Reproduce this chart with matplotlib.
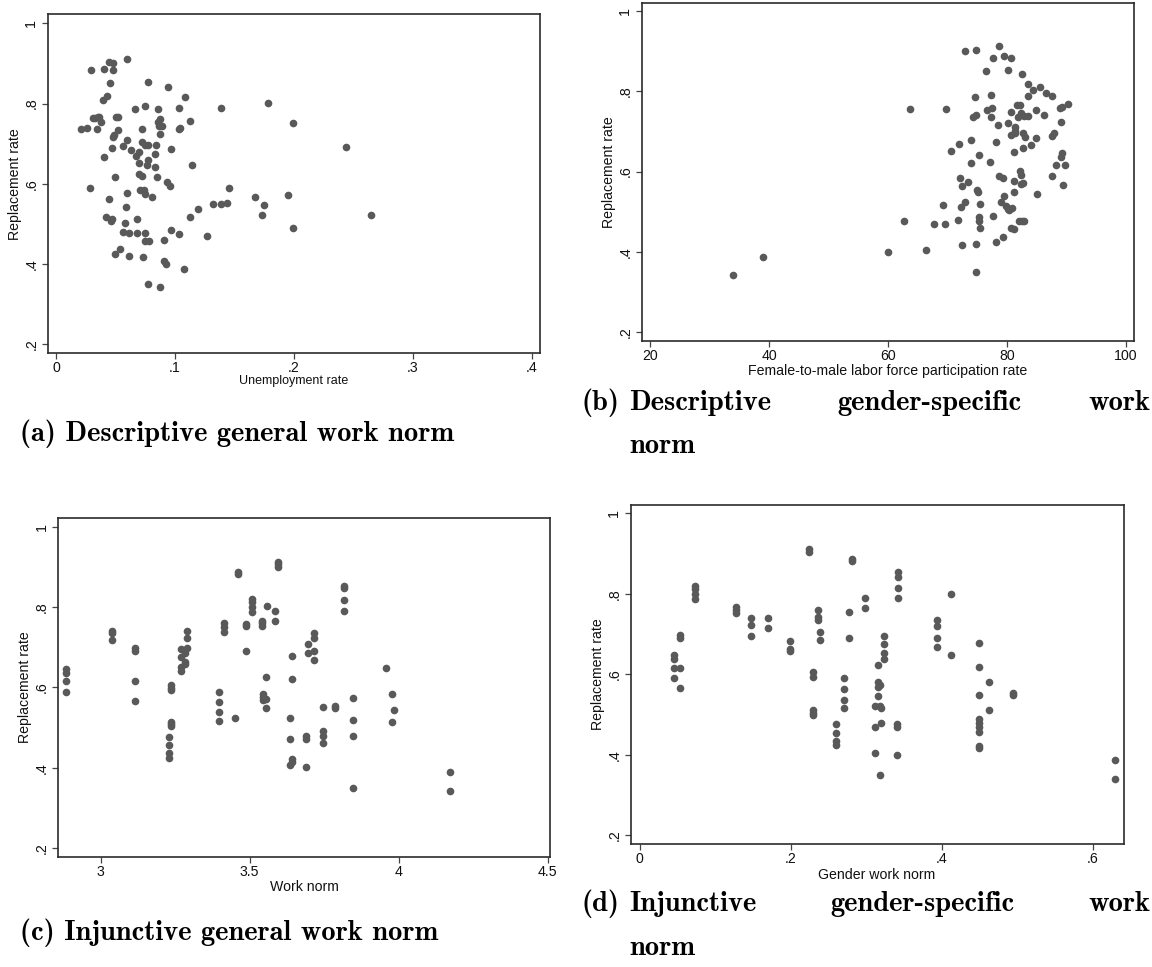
import matplotlib
matplotlib.use("Agg")
import matplotlib.pyplot as plt

W, H = 1152, 967

# ---- (a) descriptive general work norm ----
unemp_rate = [0.0213, 0.0264, 0.0294, 0.0285, 0.0312, 0.0351, 0.0345, 0.0378, 0.0327, 0.0360,
              0.0396, 0.0405, 0.0405, 0.0432, 0.0444, 0.0455, 0.0476, 0.0482, 0.0420, 0.0444,
              0.0470, 0.0464, 0.0476, 0.0488, 0.0473, 0.0494, 0.0503, 0.0524, 0.0524, 0.0500,
              0.0542, 0.0563, 0.0563, 0.0581, 0.0593, 0.0593, 0.0590, 0.0599, 0.0614, 0.0614,
              0.0632, 0.0662, 0.0683, 0.0683, 0.0674, 0.0695, 0.0701, 0.0701, 0.0707, 0.0722,
              0.0722, 0.0722, 0.0734, 0.0743, 0.0752, 0.0752, 0.0752, 0.0752, 0.0752, 0.0764,
              0.0773, 0.0773, 0.0773, 0.0773, 0.0785, 0.0803, 0.0833, 0.0830, 0.0842, 0.0845,
              0.0854, 0.0857, 0.0872, 0.0866, 0.0893, 0.0875, 0.0872, 0.0905, 0.0905, 0.0923,
              0.0932, 0.0944, 0.0959, 0.0965, 0.0971, 0.1034, 0.1034, 0.1043, 0.1034, 0.1073,
              0.1085, 0.1124, 0.1124, 0.1142, 0.1190, 0.1270, 0.1321, 0.1384, 0.1441, 0.1390,
              0.1453, 0.1672, 0.1729, 0.1753, 0.1783, 0.1951, 0.1990, 0.1990, 0.2436, 0.2649]
repl_a = [0.737, 0.740, 0.884, 0.590, 0.764, 0.766, 0.737, 0.753, 0.763, 0.767,
          0.809, 0.886, 0.668, 0.818, 0.903, 0.850, 0.902, 0.883, 0.517, 0.563,
          0.513, 0.507, 0.716, 0.722, 0.690, 0.616, 0.766, 0.766, 0.735, 0.425,
          0.438, 0.480, 0.693, 0.503, 0.911, 0.577, 0.543, 0.709, 0.478, 0.421,
          0.683, 0.786, 0.513, 0.478, 0.670, 0.652, 0.679, 0.625, 0.584, 0.737,
          0.704, 0.620, 0.417, 0.584, 0.795, 0.478, 0.457, 0.697, 0.575, 0.646,
          0.853, 0.660, 0.696, 0.350, 0.457, 0.567, 0.675, 0.641, 0.696, 0.617,
          0.786, 0.753, 0.761, 0.745, 0.743, 0.724, 0.342, 0.459, 0.407, 0.401,
          0.604, 0.842, 0.594, 0.486, 0.687, 0.789, 0.736, 0.740, 0.476, 0.388,
          0.816, 0.757, 0.518, 0.648, 0.538, 0.469, 0.550, 0.550, 0.553, 0.790,
          0.590, 0.566, 0.522, 0.548, 0.801, 0.571, 0.752, 0.489, 0.692, 0.522]

# ---- (b) descriptive gender-specific work norm ----
flfp_ratio = [33.9, 39.0, 59.9, 62.6, 63.6, 66.4, 67.7, 69.3, 69.5, 69.7,
              70.6, 71.7, 72.0, 72.1, 72.4, 72.5, 72.2, 72.9, 73.0, 73.5,
              73.9, 74.0, 74.3, 74.6, 74.7, 74.7, 74.8, 74.8, 75.0, 75.2,
              75.1, 75.2, 75.3, 75.4, 75.5, 76.5, 76.7, 77.1, 77.3, 77.3,
              77.4, 77.6, 77.6, 78.1, 78.2, 78.4, 78.7, 78.7, 79.3, 79.5,
              79.4, 79.5, 79.0, 79.8, 80.1, 80.2, 80.1, 80.4, 80.7, 80.7,
              80.7, 80.7, 80.9, 81.1, 81.1, 81.1, 81.2, 81.3, 81.3, 81.4,
              81.7, 81.9, 82.1, 82.0, 82.2, 82.3, 82.3, 82.3, 82.5, 82.5,
              82.7, 82.7, 82.7, 82.9, 82.9, 83.0, 83.5, 83.6, 83.6, 84.1,
              84.4, 84.9, 84.9, 85.0, 85.6, 86.2, 86.6, 87.5, 87.6, 87.6,
              87.9, 88.9, 89.0, 89.2, 89.0, 89.3, 89.4, 89.8, 90.3, 88.2]
repl_b = [0.342, 0.388, 0.401, 0.478, 0.756, 0.406, 0.470, 0.517, 0.470, 0.756,
          0.652, 0.480, 0.668, 0.583, 0.563, 0.416, 0.512, 0.901, 0.523, 0.574,
          0.620, 0.679, 0.736, 0.786, 0.740, 0.420, 0.902, 0.349, 0.555, 0.640,
          0.550, 0.488, 0.477, 0.518, 0.459, 0.850, 0.753, 0.624, 0.790, 0.735,
          0.759, 0.882, 0.490, 0.425, 0.674, 0.716, 0.911, 0.590, 0.583, 0.539,
          0.437, 0.887, 0.523, 0.514, 0.721, 0.853, 0.506, 0.504, 0.747, 0.692,
          0.459, 0.883, 0.508, 0.549, 0.648, 0.457, 0.576, 0.711, 0.701, 0.695,
          0.765, 0.736, 0.765, 0.477, 0.601, 0.592, 0.568, 0.745, 0.843, 0.477,
          0.695, 0.658, 0.572, 0.477, 0.739, 0.687, 0.789, 0.817, 0.737, 0.667,
          0.803, 0.684, 0.754, 0.544, 0.811, 0.740, 0.796, 0.590, 0.788, 0.689,
          0.697, 0.759, 0.723, 0.761, 0.637, 0.647, 0.566, 0.617, 0.767, 0.617]

# ---- (c) injunctive general work norm ----
work_norm = [2.885, 2.885, 2.885, 2.885, 3.038, 3.038, 3.038, 3.116, 3.116, 3.116,
             3.116, 3.228, 3.228, 3.228, 3.228, 3.237, 3.237, 3.237, 3.237, 3.237,
             3.237, 3.269, 3.269, 3.269, 3.269, 3.284, 3.284, 3.284, 3.290, 3.290,
             3.290, 3.398, 3.398, 3.398, 3.398, 3.415, 3.415, 3.415, 3.449, 3.462,
             3.462, 3.487, 3.487, 3.487, 3.507, 3.507, 3.507, 3.507, 3.541, 3.541,
             3.541, 3.543, 3.543, 3.543, 3.553, 3.553, 3.553, 3.557, 3.585, 3.585,
             3.596, 3.596, 3.596, 3.636, 3.636, 3.636, 3.642, 3.642, 3.642, 3.642,
             3.688, 3.688, 3.688, 3.696, 3.696, 3.714, 3.714, 3.714, 3.714, 3.746,
             3.746, 3.746, 3.746, 3.786, 3.786, 3.817, 3.817, 3.817, 3.817, 3.847,
             3.847, 3.847, 3.847, 3.957, 3.976, 3.976, 3.983, 4.170, 4.170]
repl_c = [0.645, 0.637, 0.617, 0.590, 0.740, 0.736, 0.717, 0.697, 0.692, 0.617,
          0.567, 0.478, 0.457, 0.438, 0.425, 0.606, 0.598, 0.594, 0.515, 0.509,
          0.504, 0.696, 0.675, 0.652, 0.640, 0.685, 0.664, 0.658, 0.740, 0.724,
          0.697, 0.590, 0.564, 0.540, 0.517, 0.761, 0.751, 0.737, 0.523, 0.888,
          0.882, 0.758, 0.753, 0.692, 0.821, 0.813, 0.801, 0.789, 0.766, 0.760,
          0.753, 0.585, 0.577, 0.569, 0.625, 0.571, 0.548, 0.803, 0.791, 0.766,
          0.913, 0.906, 0.900, 0.523, 0.471, 0.407, 0.679, 0.620, 0.423, 0.415,
          0.479, 0.471, 0.402, 0.707, 0.687, 0.736, 0.722, 0.692, 0.668, 0.551,
          0.492, 0.480, 0.461, 0.554, 0.550, 0.853, 0.847, 0.818, 0.790, 0.575,
          0.519, 0.480, 0.351, 0.648, 0.584, 0.513, 0.544, 0.389, 0.342]

# ---- (d) injunctive gender-specific work norm ----
gender_norm = [0.046, 0.046, 0.046, 0.046, 0.054, 0.054, 0.054, 0.054, 0.073, 0.073,
               0.073, 0.073, 0.127, 0.127, 0.127, 0.148, 0.148, 0.148, 0.170, 0.170,
               0.199, 0.199, 0.199, 0.224, 0.224, 0.230, 0.230, 0.230, 0.230, 0.230,
               0.236, 0.236, 0.236, 0.239, 0.239, 0.260, 0.260, 0.260, 0.260, 0.271,
               0.271, 0.271, 0.271, 0.277, 0.277, 0.281, 0.281, 0.299, 0.299, 0.312,
               0.312, 0.312, 0.315, 0.315, 0.315, 0.315, 0.318, 0.318, 0.318, 0.320,
               0.320, 0.323, 0.323, 0.323, 0.323, 0.342, 0.342, 0.342, 0.342, 0.341,
               0.341, 0.341, 0.394, 0.394, 0.394, 0.394, 0.412, 0.412, 0.450, 0.450,
               0.450, 0.450, 0.450, 0.450, 0.450, 0.450, 0.450, 0.463, 0.463, 0.495,
               0.495, 0.630, 0.630]
repl_d = [0.648, 0.638, 0.615, 0.590, 0.697, 0.691, 0.615, 0.566, 0.820, 0.812,
          0.799, 0.786, 0.768, 0.760, 0.753, 0.740, 0.722, 0.696, 0.739, 0.716,
          0.683, 0.664, 0.658, 0.911, 0.903, 0.605, 0.594, 0.512, 0.505, 0.500,
          0.760, 0.743, 0.735, 0.706, 0.685, 0.476, 0.455, 0.434, 0.424, 0.590,
          0.563, 0.537, 0.516, 0.755, 0.691, 0.886, 0.881, 0.789, 0.765, 0.522,
          0.469, 0.405, 0.624, 0.581, 0.569, 0.546, 0.573, 0.521, 0.349, 0.480,
          0.517, 0.695, 0.674, 0.652, 0.638, 0.853, 0.842, 0.815, 0.789, 0.476,
          0.468, 0.400, 0.735, 0.721, 0.691, 0.667, 0.799, 0.648, 0.677, 0.619,
          0.548, 0.490, 0.480, 0.469, 0.457, 0.422, 0.417, 0.581, 0.512, 0.554,
          0.548, 0.386, 0.341]

y_ticks = [0.2, 0.4, 0.6, 0.8, 1.0]
y_ticklabels = ['.2', '.4', '.6', '.8', '1']

panels = [
    dict(x=unemp_rate, y=repl_a, box=(47.7, 14.3, 540, 353.3),
         xlim=(-0.0070, 0.407), ylim=(0.1776, 1.0224),
         xt=[0, 0.1, 0.2, 0.3, 0.4], xtl=['0', '.1', '.2', '.3', '.4'],
         xlabel='Unemployment rate', xlab_pos=(294, 381), xlab_size=9,
         ylab_pos=(15, 184)),
    dict(x=flfp_ratio, y=repl_b, box=(641.7, 2.7, 1134.3, 341),
         xlim=(18.55, 101.4), ylim=(0.1784, 1.0199),
         xt=[20, 40, 60, 80, 100], xtl=['20', '40', '60', '80', '100'],
         xlabel='Female-to-male labor force participation rate', xlab_pos=(888, 371),
         xlab_size=10.2, ylab_pos=(609, 172)),
    dict(x=work_norm, y=repl_c, box=(58, 517.7, 550, 856.7),
         xlim=(2.857, 4.507), ylim=(0.179, 1.0224),
         xt=[3, 3.5, 4, 4.5], xtl=['3', '3.5', '4', '4.5'],
         xlabel='Work norm', xlab_pos=(304, 887), xlab_size=10.2,
         ylab_pos=(25, 687)),
    dict(x=gender_norm, y=repl_d, box=(630.7, 505, 1124, 843.7),
         xlim=(-0.0119, 0.6415), ylim=(0.179, 1.0206),
         xt=[0, 0.2, 0.4, 0.6], xtl=['0', '.2', '.4', '.6'],
         xlabel='Gender work norm', xlab_pos=(877, 875), xlab_size=10.2,
         ylab_pos=(598, 674)),
]

sans = 'Liberation Sans'
dot_color = '#595959'
frame_color = '#2b2b2b'

fig = plt.figure(figsize=(W / 100, H / 100), dpi=100, facecolor='white')

for p in panels:
    l, t, r, b = p['box']
    ax = fig.add_axes([l / W, 1 - b / H, (r - l) / W, (b - t) / H])
    ax.plot(p['x'], p['y'], 'o', color=dot_color, markersize=5.5,
            markeredgewidth=0, linestyle='none')
    ax.set_xlim(p['xlim'])
    ax.set_ylim(p['ylim'])
    ax.set_xticks(p['xt'])
    ax.set_xticklabels(p['xtl'], fontfamily=sans, fontsize=10.2)
    ax.set_yticks(y_ticks)
    ax.set_yticklabels(y_ticklabels, fontfamily=sans, fontsize=10.2,
                       rotation=90, va='center')
    ax.tick_params(direction='out', length=4.3, width=0.9, color='#444444',
                   labelcolor='#111111')
    ax.tick_params(axis='x', pad=1.5)
    ax.tick_params(axis='y', pad=2.5)
    for s in ax.spines.values():
        s.set_color(frame_color)
        s.set_linewidth(1.2)
    fig.text(p['xlab_pos'][0] / W, 1 - p['xlab_pos'][1] / H, p['xlabel'],
             ha='center', va='center', fontfamily=sans, fontsize=p['xlab_size'],
             color='#111111')
    fig.text(p['ylab_pos'][0] / W, 1 - p['ylab_pos'][1] / H, 'Replacement rate',
             ha='center', va='center', rotation=90, fontfamily=sans,
             fontsize=10.2, color='#111111')

# ---- sub-captions (LaTeX-like bold serif) ----
cap = dict(fontfamily='cmb10', fontsize=20.5, color='black', va='baseline', ha='left')

fig.text(20 / W, 1 - 441 / H, '(a) Descriptive general work norm', **cap)
fig.text(20 / W, 1 - 940 / H, '(c) Injunctive general work norm', **cap)

fig.canvas.draw()
renderer = fig.canvas.get_renderer()


def justified_caption(label, words, last, x0, x1, y1, y2):
    lab = fig.text(x0 / W, 1 - y1 / H, label, **cap)
    space = fig.text(0, 0, 'a a', **cap)
    one = fig.text(0, 0, 'aa', **cap)
    items = [fig.text(0, 1 - y1 / H, w, **cap) for w in words]
    fig.canvas.draw()
    sp = space.get_window_extent(renderer).width - one.get_window_extent(renderer).width
    space.remove()
    one.remove()
    lw = lab.get_window_extent(renderer).width
    start = x0 + lw + sp
    widths = [it.get_window_extent(renderer).width for it in items]
    gap = (x1 - start - sum(widths)) / (len(items) - 1)
    x = start
    for it, w in zip(items, widths):
        it.set_x(x / W)
        x += w + gap
    fig.text(start / W, 1 - y2 / H, last, **cap)


justified_caption('(b)', ['Descriptive', 'gender-specific', 'work'], 'norm',
                  582, 1150, 410, 453)
justified_caption('(d)', ['Injunctive', 'gender-specific', 'work'], 'norm',
                  582, 1150, 911, 955)

fig.savefig('out.png', dpi=100, facecolor='white')
